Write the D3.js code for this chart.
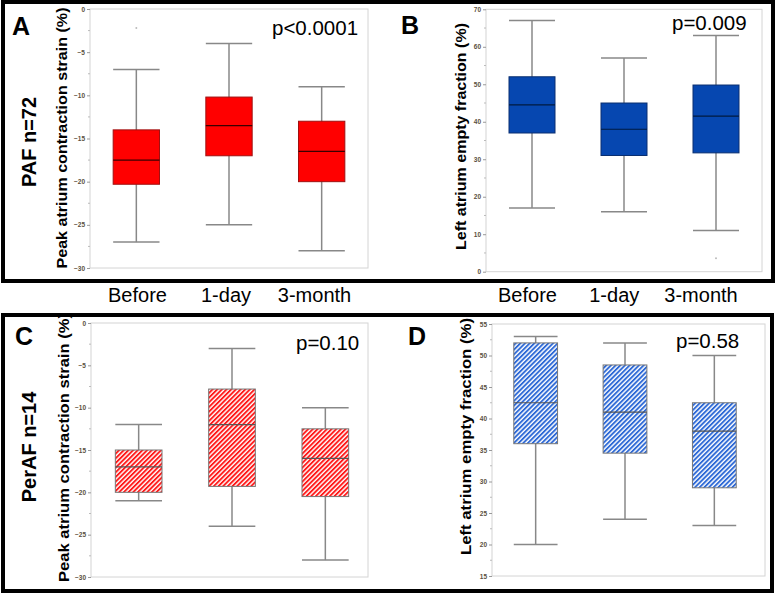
<!DOCTYPE html>
<html>
<head>
<meta charset="utf-8">
<script src="https://cdn.jsdelivr.net/npm/d3@7"></script>
<style>
  body { margin: 0; background: #fff; }
  text { font-family: "Liberation Sans", Arial, sans-serif; }
</style>
</head>
<body>
<div id="chart"></div>
<script>
// groups on the x axis
const groups = ["Before", "1-day", "3-month"];

// box stats per group: [min, q1, median, q3, max]
const pafStrain = [[-27, -20.3, -17.5, -14, -7], [-25, -17, -13.5, -10.2, -4], [-28, -20, -16.5, -13, -9]];
const pafEmpty = [[17, 37, 44.5, 52, 67], [16, 31, 38, 45, 57], [11, 31.7, 41.5, 49.8, 63]];
const perafStrain = [[-21, -20, -17, -15, -12], [-24, -19.3, -12, -7.8, -3], [-28, -20.5, -16, -12.5, -10]];
const perafEmpty = [[20, 36, 42.5, 52, 53], [24, 34.5, 41, 48.5, 52], [23, 29, 38, 42.5, 50]];

// outliers: [group index, value]
const pafStrainOut = [[0, -2.2]];
const pafEmptyOut = [[2, 3.6]];

// tick labels
const strainTicks = [0, -5, -10, -15, -20, -25, -30];
const emptyTicksB = [0, 10, 20, 30, 40, 50, 60, 70];
const emptyTicksD = [15, 20, 25, 30, 35, 40, 45, 50, 55];

const pValues = ["p<0.0001", "p=0.009", "p=0.10", "p=0.58"];
const panelLetters = ["A", "B", "C", "D"];

const svg = d3.select("#chart").append("svg")
    .attr("width", 777)
    .attr("height", 593);

svg.append("rect").attr("width", 777).attr("height", 593).attr("fill", "#fff");

// hatch patterns
const defs = svg.append("defs");
function hatch(id, color) {
    const p = defs.append("pattern")
        .attr("id", id)
        .attr("patternUnits", "userSpaceOnUse")
        .attr("width", 3.3)
        .attr("height", 3.3)
        .attr("patternTransform", "rotate(45)");
    p.append("rect").attr("width", 3.3).attr("height", 3.3).attr("fill", "#fff");
    p.append("rect").attr("width", 1.9).attr("height", 3.3).attr("fill", color);
}
hatch("hatchRed", "#ff1a1a");
hatch("hatchBlue", "#2f6ad6");

// outer black frames (one per row)
svg.append("rect").attr("x", 3).attr("y", 2).attr("width", 770).attr("height", 279)
    .attr("fill", "none").attr("stroke", "#000").attr("stroke-width", 4);
svg.append("rect").attr("x", 3).attr("y", 315).attr("width", 769).attr("height", 276)
    .attr("fill", "none").attr("stroke", "#000").attr("stroke-width", 4);

function drawPanel(cfg) {
    const g = svg.append("g");
    const y = d3.scaleLinear().domain(cfg.domain).range([cfg.bottom, cfg.top]);
    const x = d3.scalePoint().domain(groups).range(cfg.xRange).padding(0.5);
    const bw = x.step() * cfg.boxFrac;

    // plot frame
    g.append("rect")
        .attr("x", cfg.left).attr("y", cfg.top)
        .attr("width", cfg.right - cfg.left).attr("height", cfg.bottom - cfg.top)
        .attr("fill", "none").attr("stroke", "#d4d4d4").attr("stroke-width", 1);

    // y axis ticks
    const ax = g.append("g")
        .attr("transform", `translate(${cfg.left},0)`)
        .call(d3.axisLeft(y).tickValues(cfg.ticks).tickSize(3).tickPadding(2));
    ax.select(".domain").remove();
    ax.selectAll(".tick line").attr("stroke", "#999");
    ax.selectAll(".tick text")
        .attr("font-size", 6.5).attr("font-weight", "bold").attr("fill", "#5a5040")
        .attr("font-family", "Liberation Sans, Arial, sans-serif");

    // minor ticks
    const minors = d3.pairs(cfg.ticks).map(p => (p[0] + p[1]) / 2);
    g.selectAll(".minor").data(minors).join("line")
        .attr("x1", cfg.left - 2).attr("x2", cfg.left)
        .attr("y1", d => y(d)).attr("y2", d => y(d))
        .attr("stroke", "#bbb");

    const boxes = g.selectAll(".box").data(cfg.stats).join("g")
        .attr("transform", (d, i) => `translate(${x(groups[i])},0)`);

    // whisker stem
    boxes.append("line")
        .attr("x1", 0).attr("x2", 0)
        .attr("y1", d => y(d[0])).attr("y2", d => y(d[4]))
        .attr("stroke", "#888").attr("stroke-width", 1.5);
    // caps
    boxes.selectAll(".cap").data(d => [d[0], d[4]]).join("line")
        .attr("x1", -bw / 2).attr("x2", bw / 2)
        .attr("y1", d => y(d)).attr("y2", d => y(d))
        .attr("stroke", "#888").attr("stroke-width", 1.5);
    // box
    boxes.append("rect")
        .attr("x", -bw / 2).attr("width", bw)
        .attr("y", d => y(d[3])).attr("height", d => y(d[1]) - y(d[3]))
        .attr("fill", cfg.fill)
        .attr("stroke", cfg.boxStroke).attr("stroke-width", 1);
    // median
    boxes.append("line")
        .attr("x1", -bw / 2).attr("x2", bw / 2)
        .attr("y1", d => y(d[2])).attr("y2", d => y(d[2]))
        .attr("stroke", cfg.medianStroke).attr("stroke-width", 1.2);

    // outliers
    g.selectAll(".out").data(cfg.outliers || []).join("circle")
        .attr("cx", d => x(groups[d[0]])).attr("cy", d => y(d[1]))
        .attr("r", 1).attr("fill", "#bbb");

    // y title
    g.append("text")
        .attr("transform", `translate(${cfg.titleX},${cfg.titleY}) rotate(-90)`)
        .attr("text-anchor", "middle")
        .attr("font-size", 15).attr("font-weight", "bold")
        .attr("textLength", cfg.titleLen).attr("lengthAdjust", "spacingAndGlyphs")
        .text(cfg.title);

    // panel letter
    g.append("text")
        .attr("x", cfg.letterX).attr("y", cfg.letterY)
        .attr("font-size", 25).attr("font-weight", "bold")
        .text(cfg.letter);

    // p value
    g.append("text")
        .attr("x", cfg.pX).attr("y", cfg.pY)
        .attr("font-size", 20.5)
        .text(cfg.p);
}

drawPanel({
    left: 90, right: 368, top: 9, bottom: 268, xRange: [90, 368], boxFrac: 0.5,
    domain: [-30, 0], ticks: strainTicks, stats: pafStrain, outliers: pafStrainOut,
    fill: "#ff0000", boxStroke: "#a01010", medianStroke: "#3a0000",
    title: "Peak atrium contraction strain (%)", titleX: 67, titleY: 138, titleLen: 261,
    letter: panelLetters[0], letterX: 12, letterY: 35, p: pValues[0], pX: 272, pY: 35
});

drawPanel({
    left: 486, right: 762, top: 9.3, bottom: 271.7, xRange: [486, 762], boxFrac: 0.5,
    domain: [0, 70], ticks: emptyTicksB, stats: pafEmpty, outliers: pafEmptyOut,
    fill: "#0647b0", boxStroke: "#0a2f70", medianStroke: "#001a40",
    title: "Left atrium empty fraction (%)", titleX: 466, titleY: 136.5, titleLen: 227,
    letter: panelLetters[1], letterX: 401, letterY: 34, p: pValues[1], pX: 672, pY: 30
});

drawPanel({
    left: 91, right: 368, top: 323, bottom: 577, xRange: [92, 372], boxFrac: 0.5,
    domain: [-30, 0], ticks: strainTicks, stats: perafStrain, outliers: [],
    fill: "url(#hatchRed)", boxStroke: "#777", medianStroke: "#555",
    title: "Peak atrium contraction strain (%)", titleX: 69, titleY: 447.5, titleLen: 269,
    letter: panelLetters[2], letterX: 15, letterY: 345, p: pValues[2], pX: 296, pY: 350
});

drawPanel({
    left: 492, right: 765, top: 324, bottom: 576, xRange: [491, 759], boxFrac: 0.49,
    domain: [15, 55], ticks: emptyTicksD, stats: perafEmpty, outliers: [],
    fill: "url(#hatchBlue)", boxStroke: "#777", medianStroke: "#555",
    title: "Left atrium empty fraction (%)", titleX: 471, titleY: 436.5, titleLen: 237,
    letter: panelLetters[3], letterX: 408, letterY: 345, p: pValues[3], pX: 676, pY: 348
});

// row labels (rotated)
const rowLabels = ["PAF n=72", "PerAF n=14"];
const rowY = d3.scaleOrdinal().domain(rowLabels).range([142, 447]);
svg.selectAll(".rowlab").data(rowLabels).join("text")
    .attr("transform", d => `translate(36,${rowY(d)}) rotate(-90)`)
    .attr("text-anchor", "middle")
    .attr("font-size", 20).attr("font-weight", "bold")
    .text(d => d);

// group labels between the rows
const labLeft = d3.scalePoint().domain(groups).range([137.5, 314.5]);
const labRight = d3.scalePoint().domain(groups).range([527.5, 701]);
[labLeft, labRight].forEach(s => {
    svg.append("g").selectAll("text").data(groups).join("text")
        .attr("x", d => s(d)).attr("y", 302)
        .attr("text-anchor", "middle")
        .attr("font-size", 20)
        .text(d => d);
});
</script>
</body>
</html>
